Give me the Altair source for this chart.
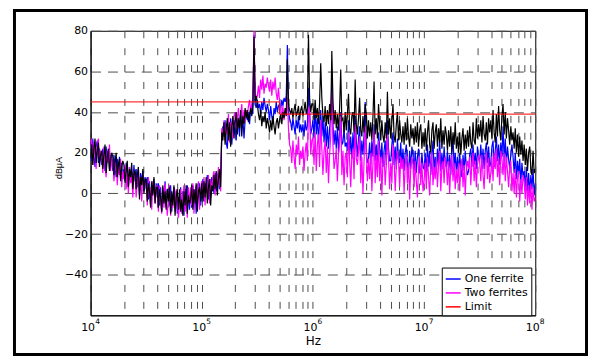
import altair as alt
import pandas as pd

# ---- data (dBuA), sampled every 0.01 decade from 1e4 Hz to 1e8 Hz ----
black = [
    17, 24, 14, 22, 27, 15, 21, 25, 13, 19,   # 4.0
    21, 12, 19, 24, 10, 18, 22, 11, 16, 20,   # 4.1
    18, 9, 15, 20, 8, 14, 17, 6, 13, 16,      # 4.2
    14, 5, 11, 16, 3, 12, 8, 15, 2, 10,       # 4.3
    11, 2, 9, 13, -3, 8, 4, 12, 0, 7,         # 4.4
    7, -4, 5, 1, -7, 6, -1, 8, -5, 3,         # 4.5
    3, -7, 2, -2, -9, 4, -5, 1, -8, 2,        # 4.6
    -4, 3, -10, 1, -6, 4, -11, -2, 2, -8,     # 4.7
    2, -9, -3, -11, 1, -6, 4, -10, -1, -5,    # 4.8
    -3, 4, -8, 2, -5, 5, -9, 1, 3, -4,        # 4.9
    5, -4, 6, -2, 8, -5, 3, 7, -6, 4,         # 5.0
    1, 9, 2, 11, -1, 7, 12, 3, 30, 26,        # 5.1
    35, 24, 32, 37, 26, 35, 23, 33, 38, 27,   # 5.2
    35, 40, 29, 37, 32, 41, 28, 38, 34, 42,   # 5.3
    37, 41, 35, 39, 42, 38, 44, 77, 45, 48,   # 5.4
    44, 39, 36, 41, 33, 38, 35, 40, 32, 37,   # 5.5
    34, 30, 36, 31, 38, 33, 29, 35, 37, 32,   # 5.6
    36, 39, 34, 40, 37, 42, 38, 66, 44, 41,   # 5.7
    39, 42, 37, 41, 44, 38, 40, 43, 36, 41,   # 5.8
    43, 38, 41, 45, 39, 42, 78, 47, 40, 44,   # 5.9
    44, 36, 46, 37, 42, 34, 45, 64, 47, 38,   # 6.0
    35, 43, 33, 41, 34, 44, 36, 70, 46, 34,   # 6.1
    41, 32, 39, 31, 42, 61, 36, 37, 30, 40,   # 6.2
    31, 39, 49, 32, 29, 38, 40, 30, 56, 34,   # 6.3
    29, 37, 47, 31, 28, 38, 30, 44, 39, 27,   # 6.4
    36, 28, 35, 26, 38, 55, 29, 37, 27, 44,   # 6.5
    34, 26, 36, 28, 25, 35, 27, 50, 29, 37,   # 6.6
    27, 35, 44, 28, 25, 34, 40, 26, 36, 29,   # 6.7
    25, 33, 24, 35, 26, 37, 28, 23, 34, 27,   # 6.8
    32, 24, 33, 25, 35, 23, 31, 34, 22, 30,   # 6.9
    23, 32, 21, 30, 36, 24, 20, 31, 35, 22,   # 7.0
    30, 34, 23, 32, 25, 37, 22, 31, 24, 33,   # 7.1
    29, 21, 31, 23, 33, 20, 30, 24, 35, 22,   # 7.2
    28, 20, 30, 19, 27, 32, 21, 29, 22, 31,   # 7.3
    23, 33, 25, 22, 35, 26, 24, 37, 27, 34,   # 7.4
    28, 36, 25, 38, 29, 26, 35, 24, 37, 30,   # 7.5
    36, 27, 41, 30, 25, 39, 28, 43, 31, 26,   # 7.6
    38, 44, 29, 40, 27, 37, 31, 24, 33, 26,   # 7.7
    30, 22, 32, 20, 29, 18, 28, 19, 26, 16,   # 7.8
    24, 14, 22, 11, 20, 23, 12, 9, 21, 10,    # 7.9
    12,
]
one_ferrite = [
    25, 16, 27, 19, 13, 23, 26, 15, 22, 18,
    14, 22, 17, 11, 23, 15, 20, 12, 19, 16,
    11, 19, 13, 8, 17, 12, 18, 9, 15, 7,
    12, 6, 15, 9, 3, 13, 7, 11, 4, 14,
    6, 12, 3, 9, -1, 10, 5, 11, 1, 8,
    2, 8, -3, 6, -6, 4, 0, 7, -4, 5,
    -2, 5, -6, 3, -9, 1, -4, 6, -7, 2,
    2, -6, 4, -9, -1, 3, -7, 1, -10, -2,
    -5, 3, -9, 1, -11, 2, -6, 4, -3, -8,
    1, -7, 4, -4, 2, -10, 3, -2, 5, -6,
    -1, 7, -4, 5, 1, 9, -3, 4, -2, 8,
    6, 0, 10, 1, 8, 11, 2, 9, 27, 33,
    28, 36, 25, 22, 34, 29, 37, 24, 32, 36,
    33, 26, 38, 35, 28, 40, 32, 37, 27, 36,
    39, 36, 40, 34, 41, 43, 39, 78, 44, 42,
    46, 42, 44, 39, 45, 41, 47, 43, 40, 44,
    41, 36, 43, 38, 34, 42, 39, 45, 40, 43,
    44, 41, 46, 43, 47, 45, 48, 73, 40, 37,
    35, 31, 37, 33, 29, 36, 32, 38, 30, 34,
    30, 34, 28, 36, 31, 33, 52, 40, 29, 32,
    36, 27, 43, 29, 37, 26, 35, 41, 28, 38,
    25, 35, 23, 33, 22, 32, 37, 54, 34, 24,
    31, 22, 33, 20, 30, 40, 24, 25, 32, 23,
    25, 21, 36, 19, 28, 17, 30, 20, 38, 26,
    18, 27, 33, 16, 26, 19, 29, 45, 20, 15,
    17, 25, 14, 26, 18, 34, 16, 24, 13, 30,
    23, 15, 25, 13, 21, 26, 14, 36, 22, 16,
    16, 24, 30, 14, 23, 12, 27, 17, 15, 25,
    13, 22, 11, 20, 24, 14, 10, 21, 12, 23,
    19, 11, 21, 10, 18, 22, 12, 9, 20, 13,
    12, 20, 10, 24, 13, 21, 9, 19, 26, 11,
    18, 10, 22, 13, 27, 11, 20, 12, 23, 15,
    13, 21, 11, 19, 9, 22, 28, 12, 20, 10,
    18, 10, 20, 12, 8, 19, 11, 21, 13, 9,
    11, 19, 22, 13, 24, 14, 20, 12, 23, 17,
    16, 24, 14, 22, 12, 21, 25, 15, 23, 13,
    15, 23, 26, 13, 21, 28, 16, 24, 14, 25,
    18, 33, 16, 27, 14, 23, 17, 12, 19, 24,
    18, 10, 20, 7, 16, 9, 17, 5, 15, 8,
    11, 3, 13, 1, 10, 0, 9, 2, 12, -1,
    5,
]
two_ferrites = [
    22, 27, 14, 25, 18, 12, 24, 27, 16, 21,
    19, 10, 23, 13, 8, 21, 15, 24, 11, 17,
    16, 6, 12, 18, 4, 13, 9, 17, 3, 11,
    7, 14, 2, 11, 0, 13, 5, 9, -2, 10,
    9, -2, 6, 12, 1, 8, -4, 10, 3, 5,
    5, -6, 8, -2, 3, -8, 6, 1, -5, 4,
    1, -9, 4, -4, -10, 3, -7, 5, -3, -11,
    -3, 4, -11, 0, -7, 3, -9, 2, -5, -12,
    -6, 2, -10, -1, 4, -9, -3, -12, 3, -5,
    3, -6, 5, -10, 0, 4, -4, 6, -8, 2,
    6, -2, 8, -6, 4, 0, 9, -5, 7, 1,
    8, 11, -1, 10, 3, 13, 6, 1, 32, 28,
    36, 26, 34, 29, 39, 25, 35, 30, 27, 38,
    40, 32, 37, 42, 33, 38, 44, 34, 41, 35,
    41, 38, 43, 46, 40, 44, 47, 80, 50, 46,
    48, 53, 47, 56, 51, 58, 49, 54, 52, 57,
    53, 50, 56, 48, 55, 51, 57, 49, 46, 52,
    45, 41, 38, 43, 36, 40, 39, 47, 32, 24,
    22, 15, 26, 18, 12, 24, 19, 28, 14, 21,
    17, 23, 11, 20, 25, 16, 40, 43, 19, 26,
    27, 14, 30, 11, 24, 29, 13, 36, 22, 9,
    21, 26, 10, 23, 5, 19, 28, 50, 24, 12,
    16, 22, 6, 19, 25, 38, 9, 21, 4, 18,
    20, 8, 30, 16, 3, 19, 22, 7, 34, 17,
    14, 21, 28, 5, 18, 0, 16, 33, 20, 6,
    17, 7, 20, 1, 15, 31, 5, 19, 8, 26,
    6, 18, -1, 16, 20, 4, 14, 29, 17, 2,
    15, 5, 24, 17, 1, 13, 21, 16, 3, 18,
    12, 17, 0, 14, 19, 5, 15, -3, 13, 18,
    14, 3, 16, 6, -2, 13, 18, 4, 15, 1,
    6, 15, 2, 18, 8, -1, 14, 20, 4, 13,
    7, 17, 3, 14, 21, 1, 13, 16, 5, 18,
    13, 4, 16, 0, 14, 19, 6, 15, 2, 12,
    5, 15, 1, 13, 17, 3, 14, -1, 12, 16,
    12, 18, 4, 15, 20, 6, 16, 3, 14, 19,
    15, 6, 19, 9, 2, 16, 20, 7, 17, 5,
    10, 18, 6, 20, 12, 22, 8, 17, 4, 21,
    17, 9, 20, 6, 18, 11, 3, 13, 16, 1,
    10, 0, 12, -2, 8, 11, -4, 7, 0, 9,
    6, -3, 8, -6, 4, -5, 5, -8, 3, -4,
    -2,
]
limit_freq = [1e4, 5e5, 5e5, 1e8]
limit_val = [45, 45, 39, 39]

decades = [1e4, 1e5, 1e6, 1e7, 1e8]
exponents = ["4", "5", "6", "7", "8"]
legend_names = ["One ferrite", "Two ferrites", "Limit"]
legend_colors = ["#0000ff", "#ff00ff", "#ff0000"]

# sample frequencies of the sweep
freq = [10 ** (4 + i / 100) for i in range(len(black))]

df_blue = pd.DataFrame({"f": freq, "v": one_ferrite, "s": "One ferrite"})
df_mag = pd.DataFrame({"f": freq, "v": two_ferrites, "s": "Two ferrites"})
df_black = pd.DataFrame({"f": freq, "v": black})
df_limit = pd.DataFrame({"f": limit_freq, "v": limit_val, "s": "Limit",
                         "o": list(range(len(limit_freq)))})
df_exp = pd.DataFrame({"f": decades, "t": exponents})

grid_x = [m * 10 ** k for k in range(4, 8) for m in range(1, 10)] + [10 ** 8]

W, H = 447, 286
LW = 1.2
xscale = alt.Scale(type="log", domain=[1e4, 1e8], nice=False)
yscale = alt.Scale(domain=[-60, 80], nice=False)
cscale = alt.Scale(domain=legend_names, range=legend_colors)

xaxis = alt.Axis(
    values=grid_x, grid=True, gridDash=[7, 10], gridColor="#4d4d4d", gridWidth=1,
    ticks=False, tickSize=0, labelFlush=False, labelOverlap=False,
    labelExpr="abs(log(datum.value)/LN10 - round(log(datum.value)/LN10)) < 1e-6 ? '10' : ''",
    labelFont="DejaVu Sans", labelFontSize=11, labelColor="black",
    labelPadding=6, labelOffset=-3,
    title="Hz", titleFont="DejaVu Sans", titleFontSize=12, titleFontWeight="normal",
    titleColor="black", titleY=29, titleBaseline="alphabetic",
    domainColor="black",
)
yaxis = alt.Axis(
    values=[-40, -20, 0, 20, 40, 60, 80], grid=True, gridDash=[10, 7],
    gridColor="#4d4d4d", gridWidth=1, ticks=False, tickSize=0, labelFlush=False,
    labelFont="DejaVu Sans", labelFontSize=11, labelColor="black", labelPadding=3,
    title="dBμA", titleFont="Liberation Sans", titleFontSize=9,
    titleFontWeight="normal", titleColor="black", titleAngle=270,
    titleX=-29, titleY=137.5, titleAlign="center", titleBaseline="alphabetic",
    domainColor="black",
)

legend = alt.Legend(
    title=None, orient="none", legendX=353, legendY=238,
    symbolType="stroke", symbolSize=225, symbolStrokeWidth=1.5,
    labelFont="DejaVu Sans", labelFontSize=11, labelColor="black", labelOffset=3,
    strokeColor="black", fillColor="white", padding=3, rowPadding=-0.5,
    cornerRadius=0,
)

blue_line = alt.Chart(df_blue).mark_line(strokeWidth=LW, clip=True).encode(
    x=alt.X("f:Q", scale=xscale, axis=xaxis),
    y=alt.Y("v:Q", scale=yscale, axis=yaxis),
    color=alt.Color("s:N", scale=cscale, legend=legend),
)
mag_line = alt.Chart(df_mag).mark_line(strokeWidth=LW, clip=True).encode(
    x=alt.X("f:Q", scale=xscale), y=alt.Y("v:Q", scale=yscale),
    color=alt.Color("s:N", scale=cscale, legend=legend),
)
black_line = alt.Chart(df_black).mark_line(strokeWidth=LW, clip=True, color="black").encode(
    x=alt.X("f:Q", scale=xscale), y=alt.Y("v:Q", scale=yscale),
)
limit_line = alt.Chart(df_limit).mark_line(strokeWidth=1, clip=True).encode(
    x=alt.X("f:Q", scale=xscale), y=alt.Y("v:Q", scale=yscale),
    color=alt.Color("s:N", scale=cscale, legend=legend),
    order="o:Q",
)
exp_text = alt.Chart(df_exp).mark_text(
    font="DejaVu Sans", fontSize=7.5, color="black", align="center",
    baseline="top", dx=7, dy=2.5, clip=False,
).encode(
    x=alt.X("f:Q", scale=xscale),
    y=alt.Y(datum=-60, scale=yscale),
    text="t:N",
)
frame = alt.Chart(pd.DataFrame({"a": [0]})).mark_rect(
    filled=False, stroke="black", strokeWidth=3, clip=False,
).encode(
    x=alt.value(-76.5), x2=alt.value(498.5), y=alt.value(-20.5), y2=alt.value(325.5),
)

chart = alt.layer(
    blue_line, mag_line, black_line, limit_line, exp_text, frame
).properties(
    width=W, height=H,
    autosize=alt.AutoSizeParams(type="none"),
    padding={"left": 83, "top": 22, "right": 55, "bottom": 41},
    background="white",
).configure_view(
    stroke="black", strokeWidth=1,
)

chart.save("out.html", embed_options={"renderer": "svg", "actions": False})
